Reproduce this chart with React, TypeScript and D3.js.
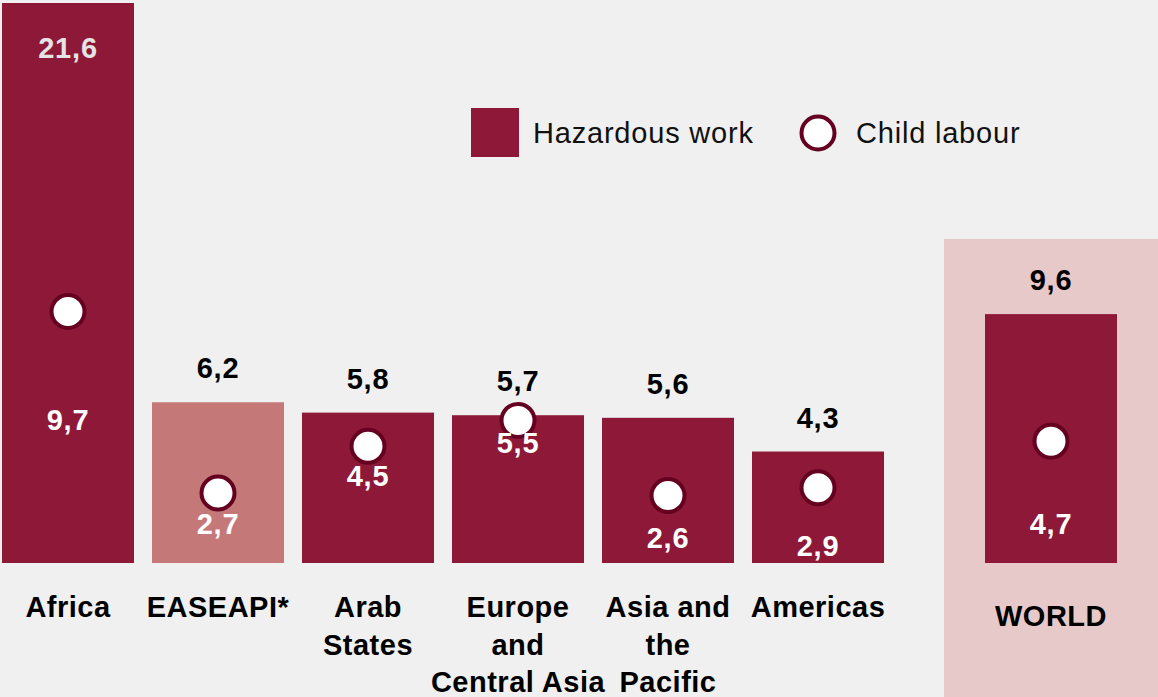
import React from "react";
import * as d3 from "d3";

const regions = ["Africa", "EASEAPI*", "Arab States", "Europe and Central Asia", "Asia and the Pacific", "Americas"];
const regionLines = [["Africa"], ["EASEAPI*"], ["Arab", "States"], ["Europe", "and", "Central Asia"], ["Asia and", "the", "Pacific"], ["Americas"]];
const barValues = [21.6, 6.2, 5.8, 5.7, 5.6, 4.3];
const dotValues = [9.7, 2.7, 4.5, 5.5, 2.6, 2.9];
const worldLabel = "WORLD";
const worldBar = 9.6;
const worldDot = 4.7;
const legendLabels = ["Hazardous work", "Child labour"];

// layout only: inner label offset below the circle (px)
const innerLabelDy = [118, 41, 40, 33, 52, 68, 93];

const W = 1158;
const H = 697;
const BASE = 563;
const BAR = "#8D1837";
const LIGHT_BAR = "#C47878";
const DOT_STROKE = "#650020";
const FONT = "'Liberation Sans', Arial, Helvetica, sans-serif";

export default function App() {
  React.useEffect(() => {
    document.body.style.margin = "0";
    document.body.style.background = "#F0F0F0";
  }, []);

  const y = d3.scaleLinear().domain([0, 21.6]).range([BASE, 3]);
  const x = d3.scaleBand<string>().domain(regions).range([2, 884]).paddingInner(0.12).paddingOuter(0);
  const xw = d3.scaleBand<string>().domain([worldLabel]).range([944, 1158]).paddingInner(0).paddingOuter(0.19);
  const bw = 132;

  const items = regions.map((r, i) => ({
    key: r,
    lines: regionLines[i],
    cx: (x(r) as number) + x.bandwidth() / 2,
    bar: barValues[i],
    dot: dotValues[i],
    color: i === 1 ? LIGHT_BAR : BAR,
    dy: innerLabelDy[i],
    labelY: 617,
  }));
  items.push({
    key: worldLabel,
    lines: [worldLabel],
    cx: (xw(worldLabel) as number) + xw.bandwidth() / 2,
    bar: worldBar,
    dot: worldDot,
    color: BAR,
    dy: innerLabelDy[6],
    labelY: 626,
  });

  const fmt = (v: number) => v.toFixed(1).replace(".", ",");

  return (
    <svg width={W} height={H} style={{ position: "absolute", left: 0, top: 0, display: "block" }} fontFamily={FONT}>
      <rect x={0} y={0} width={W} height={H} fill="#F0F0F0" />
      <rect x={944} y={239} width={W - 944} height={H - 239} fill="#E8C9C9" />
      {items.map((d) => {
        const top = y(d.bar);
        const dotY = y(d.dot);
        const inside = top - 45 < 0;
        return (
          <g key={d.key}>
            <rect x={d.cx - bw / 2} y={top} width={bw} height={BASE - top} fill={d.color} />
            <text
              x={d.cx}
              y={inside ? top + 55 : top - 24}
              textAnchor="middle"
              fontWeight="bold"
              fontSize={29}
              letterSpacing={0.8}
              fill={inside ? "#E4E4E4" : "#000"}
            >
              {fmt(d.bar)}
            </text>
            <circle cx={d.cx} cy={dotY} r={16.5} fill="#fff" stroke={DOT_STROKE} strokeWidth={4} />
            <text x={d.cx} y={dotY + d.dy} textAnchor="middle" fontWeight="bold" fontSize={29} letterSpacing={0.8} fill="#fff">
              {fmt(d.dot)}
            </text>
            {d.lines.map((l, j) => (
              <text key={j} x={d.cx} y={d.labelY + j * 37.5} textAnchor="middle" fontWeight="bold" fontSize={29} letterSpacing={0.5} fill="#000">
                {l}
              </text>
            ))}
          </g>
        );
      })}
      <g>
        <rect x={471} y={108} width={48} height={49} fill={BAR} />
        <text x={533} y={143} fontSize={29} letterSpacing={0.8} fill="#111">{legendLabels[0]}</text>
        <circle cx={818} cy={133} r={16.5} fill="#fff" stroke={DOT_STROKE} strokeWidth={4} />
        <text x={856} y={143} fontSize={29} letterSpacing={0.8} fill="#111">{legendLabels[1]}</text>
      </g>
    </svg>
  );
}
